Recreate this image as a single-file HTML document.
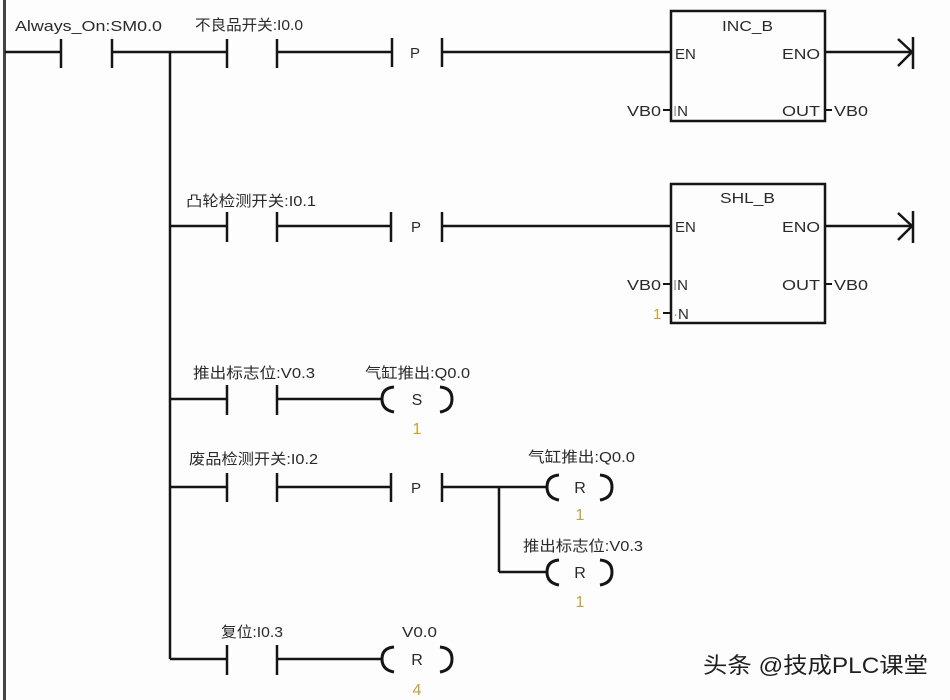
<!DOCTYPE html>
<html><head><meta charset="utf-8"><style>
html,body{margin:0;padding:0;background:#fff;}
svg{display:block;}
text{font-family:"Liberation Sans","Noto Sans CJK SC",sans-serif;fill:#2a2a2a;font-size:15px;}
.g{fill:#c9a233;}
.p{font-size:15px;}
.c{font-size:16px;}
.wm{font-size:22px;fill:#1e1e1e;}
</style></head><body>
<svg width="950" height="700" viewBox="0 0 950 700" xmlns="http://www.w3.org/2000/svg">
<rect width="950" height="700" fill="#fdfdfd"/>
<g stroke="#151515" stroke-width="2.5" fill="none">
<!-- left rail -->
<line x1="4.5" y1="0" x2="4.5" y2="700" stroke="#444" stroke-width="3"/>
<!-- row1 -->
<line x1="5" y1="52" x2="61" y2="52"/>
<line x1="61" y1="39" x2="61" y2="68"/>
<line x1="112" y1="39" x2="112" y2="68"/>
<line x1="112" y1="52" x2="227" y2="52"/>
<line x1="227" y1="39" x2="227" y2="68"/>
<line x1="277" y1="39" x2="277" y2="68"/>
<line x1="277" y1="52" x2="392" y2="52"/>
<line x1="392" y1="38" x2="392" y2="67"/>
<line x1="442" y1="38" x2="442" y2="67"/>
<line x1="442" y1="52" x2="671" y2="52"/>
<!-- vertical branch -->
<line x1="170" y1="52" x2="170" y2="659"/>
<!-- INC_B box -->
<rect x="671" y="11" width="154" height="110"/>
<line x1="825" y1="52" x2="913" y2="52"/>
<polyline points="898,39 912,52 898,66"/>
<line x1="913" y1="37" x2="913" y2="69"/>
<line x1="663" y1="110" x2="671" y2="110" stroke-width="2"/>
<line x1="825" y1="110" x2="832" y2="110" stroke-width="2"/>
<!-- row2 -->
<line x1="170" y1="226" x2="227" y2="226"/>
<line x1="227" y1="212" x2="227" y2="242"/>
<line x1="277" y1="212" x2="277" y2="242"/>
<line x1="277" y1="226" x2="391" y2="226"/>
<line x1="391" y1="212" x2="391" y2="242"/>
<line x1="442" y1="212" x2="442" y2="242"/>
<line x1="442" y1="226" x2="671" y2="226"/>
<rect x="671" y="184" width="154" height="139"/>
<line x1="825" y1="226" x2="913" y2="226"/>
<polyline points="898,213 912,226 898,240"/>
<line x1="913" y1="211" x2="913" y2="243"/>
<line x1="663" y1="284" x2="671" y2="284" stroke-width="2"/>
<line x1="663" y1="313" x2="671" y2="313" stroke-width="2"/>
<line x1="825" y1="284" x2="832" y2="284" stroke-width="2"/>
<!-- row3 -->
<line x1="170" y1="399" x2="227" y2="399"/>
<line x1="227" y1="385" x2="227" y2="415"/>
<line x1="277" y1="385" x2="277" y2="415"/>
<line x1="277" y1="399" x2="382" y2="399"/>
<path d="M394 387 Q382 388 382 399 Q382 410 394 412" stroke-width="3"/>
<path d="M440 387 Q452 388 452 399 Q452 410 440 412" stroke-width="3"/>
<!-- row4 -->
<line x1="170" y1="487" x2="227" y2="487"/>
<line x1="227" y1="473" x2="227" y2="502"/>
<line x1="277" y1="473" x2="277" y2="502"/>
<line x1="277" y1="487" x2="391" y2="487"/>
<line x1="391" y1="473" x2="391" y2="502"/>
<line x1="442" y1="473" x2="442" y2="502"/>
<line x1="442" y1="487" x2="547" y2="487"/>
<line x1="499" y1="487" x2="499" y2="572"/>
<line x1="499" y1="572" x2="547" y2="572"/>
<path d="M559 475 Q547 476 547 487 Q547 498 559 500" stroke-width="3"/>
<path d="M600 475 Q612 476 612 487 Q612 498 600 500" stroke-width="3"/>
<path d="M559 560 Q547 561 547 572 Q547 583 559 585" stroke-width="3"/>
<path d="M600 560 Q612 561 612 572 Q612 583 600 585" stroke-width="3"/>
<!-- row5 -->
<line x1="170" y1="659" x2="227" y2="659"/>
<line x1="227" y1="645" x2="227" y2="675"/>
<line x1="277" y1="645" x2="277" y2="675"/>
<line x1="277" y1="659" x2="382" y2="659"/>
<path d="M394 647 Q382 648 382 659 Q382 670 394 672" stroke-width="3"/>
<path d="M440 647 Q452 648 452 659 Q452 670 440 672" stroke-width="3"/>
</g>

<!-- labels -->
<text x="15" y="31" textLength="147" lengthAdjust="spacingAndGlyphs">Always_On:SM0.0</text>
<text x="195" y="30" textLength="108" lengthAdjust="spacingAndGlyphs">不良品开关:I0.0</text>
<text x="410" y="58" class="p">P</text>

<text x="722" y="31" textLength="51" lengthAdjust="spacingAndGlyphs">INC_B</text>
<text x="675" y="59">EN</text>
<text x="782" y="59" textLength="38" lengthAdjust="spacingAndGlyphs">ENO</text>
<text x="627" y="116" textLength="34" lengthAdjust="spacingAndGlyphs">VB0</text>
<text x="673" y="116"><tspan fill="#999">I</tspan>N</text>
<text x="782" y="116" textLength="38" lengthAdjust="spacingAndGlyphs">OUT</text>
<text x="834" y="116" textLength="34" lengthAdjust="spacingAndGlyphs">VB0</text>

<text x="186" y="206" textLength="130" lengthAdjust="spacingAndGlyphs">凸轮检测开关:I0.1</text>
<text x="411" y="232" class="p">P</text>
<text x="720" y="203" textLength="55" lengthAdjust="spacingAndGlyphs">SHL_B</text>
<text x="675" y="232">EN</text>
<text x="782" y="232" textLength="38" lengthAdjust="spacingAndGlyphs">ENO</text>
<text x="627" y="290" textLength="34" lengthAdjust="spacingAndGlyphs">VB0</text>
<text x="673" y="290"><tspan fill="#999">I</tspan>N</text>
<text x="782" y="290" textLength="38" lengthAdjust="spacingAndGlyphs">OUT</text>
<text x="834" y="290" textLength="34" lengthAdjust="spacingAndGlyphs">VB0</text>
<text x="653" y="319" class="g">1</text>
<text x="673" y="319"><tspan fill="#999">·</tspan>N</text>

<text x="193" y="378" textLength="122" lengthAdjust="spacingAndGlyphs">推出标志位:V0.3</text>
<text x="365" y="378" textLength="105" lengthAdjust="spacingAndGlyphs">气缸推出:Q0.0</text>
<text x="417" y="405" class="c" text-anchor="middle">S</text>
<text x="417" y="434" class="g c" text-anchor="middle">1</text>

<text x="189" y="464" textLength="129" lengthAdjust="spacingAndGlyphs">废品检测开关:I0.2</text>
<text x="411" y="493" class="p">P</text>
<text x="528" y="462" textLength="107" lengthAdjust="spacingAndGlyphs">气缸推出:Q0.0</text>
<text x="580" y="493" class="c" text-anchor="middle">R</text>
<text x="580" y="520" class="g c" text-anchor="middle">1</text>
<text x="523" y="551" textLength="120" lengthAdjust="spacingAndGlyphs">推出标志位:V0.3</text>
<text x="580" y="578" class="c" text-anchor="middle">R</text>
<text x="580" y="607" class="g c" text-anchor="middle">1</text>

<text x="221" y="637" textLength="62" lengthAdjust="spacingAndGlyphs">复位:I0.3</text>
<text x="402" y="637" textLength="35" lengthAdjust="spacingAndGlyphs">V0.0</text>
<text x="417" y="665" class="c" text-anchor="middle">R</text>
<text x="417" y="695" class="g c" text-anchor="middle">4</text>

<text x="703" y="673" class="wm" textLength="225" lengthAdjust="spacingAndGlyphs">头条 @技成PLC课堂</text>
</svg>
</body></html>
